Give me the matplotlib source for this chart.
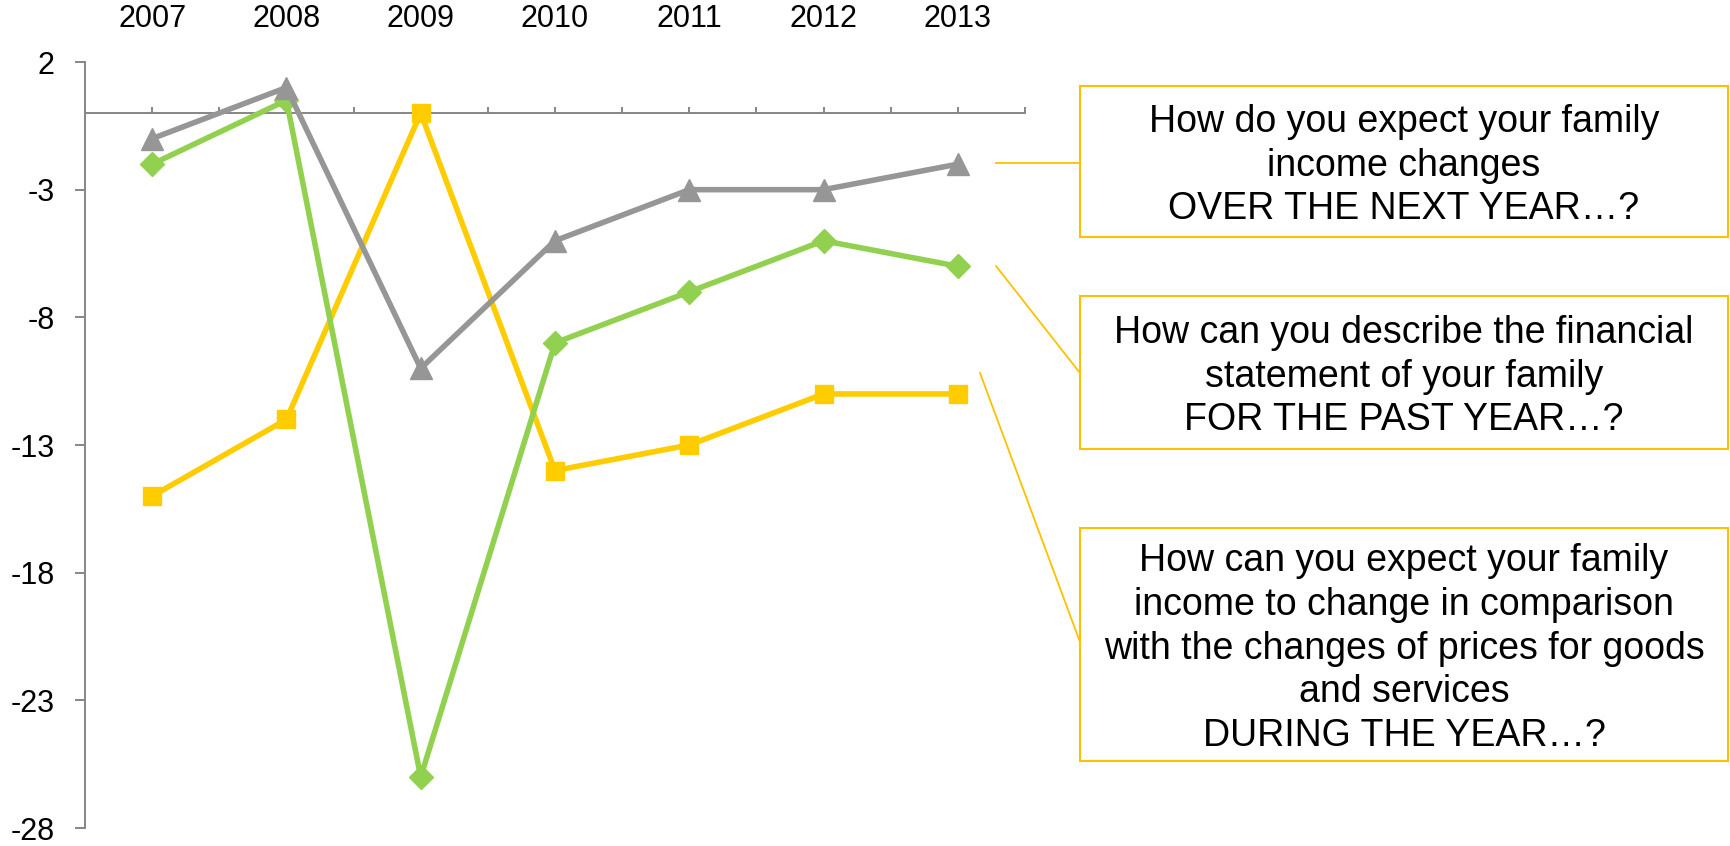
import matplotlib
matplotlib.use('Agg')
import matplotlib.pyplot as plt
from matplotlib.patches import Rectangle
from matplotlib.lines import Line2D
import numpy as np

plt.rcParams.update({
    'font.family': ['Liberation Sans', 'DejaVu Sans'],
    'axes.unicode_minus': False,
})

years = ['2007', '2008', '2009', '2010', '2011', '2012', '2013']
next_year_income = [-1, 1, -10, -5, -3, -3, -2]          # grey, triangles
past_year_finance = [-2, 0.5, -26, -9, -7, -5, -6]       # green, diamonds
income_vs_prices = [-15, -12, 0, -14, -13, -11, -11]     # yellow, squares
y_ticks = [2, -3, -8, -13, -18, -23, -28]

box_texts = [
    'How do you expect your family\nincome changes\nOVER THE NEXT YEAR…?',
    'How can you describe the financial\nstatement of your family\nFOR THE PAST YEAR…?',
    'How can you expect your family\nincome to change in comparison\nwith the changes of prices for goods\nand services\nDURING THE YEAR…?',
]

GREY = '#969696'
GREEN = '#92D050'
YELLOW = '#FFCC00'
GOLD = '#FFC000'
AXIS = '#868686'

W, H = 1731, 846
fig = plt.figure(figsize=(W / 100, H / 100), dpi=100)
ax = fig.add_axes([85 / W, 1 - 828 / H, 940 / W, (828 - 62) / H])

x = np.arange(len(years))
ax.plot(x, income_vs_prices, color=YELLOW, lw=4, marker='s', ms=13, zorder=3)
ax.plot(x, past_year_finance, color=GREEN, lw=4, marker='D', ms=12, zorder=4)
ax.plot(x, next_year_income, color=GREY, lw=4, marker='^', ms=16, zorder=5)

ax.set_xlim(-0.5, len(years) - 0.5)
ax.set_ylim(-28, 2)
ax.set_yticks(y_ticks)
ax.set_xticks(x)
ax.set_xticklabels(years)
ax.set_xticks(np.arange(-0.5, len(years)), minor=True)

ax.spines['top'].set_visible(False)
ax.spines['right'].set_visible(False)
ax.spines['bottom'].set_position(('data', 0))
for s in ('left', 'bottom'):
    ax.spines[s].set_color(AXIS)
    ax.spines[s].set_linewidth(1.4)

ax.tick_params(axis='x', which='both', direction='in', length=4.5, width=1.4,
               color=AXIS, bottom=True, top=False,
               labelbottom=False, labeltop=True, labelsize=22, pad=20)
ax.tick_params(axis='y', direction='out', length=7, width=1.4, color=AXIS,
               labelsize=22, pad=15)

# question boxes on the right (pixel layout)
boxes = [(1080, 86, 1728, 237), (1080, 296, 1728, 449), (1080, 528, 1728, 761)]
for (x0, y0, x1, y1), txt in zip(boxes, box_texts):
    fig.patches.append(Rectangle((x0 / W, 1 - y1 / H), (x1 - x0) / W, (y1 - y0) / H,
                                 transform=fig.transFigure, fill=False,
                                 edgecolor=GOLD, lw=1.5))
    fig.text((x0 + x1) / 2 / W, 1 - ((y0 + y1) / 2 + 4) / H, txt,
             ha='center', va='center', fontsize=27, linespacing=1.28)

connectors = [((996, 163), (1080, 163)), ((996, 266), (1080, 373)),
              ((980, 373), (1080, 642))]
for (xa, ya), (xb, yb) in connectors:
    fig.lines.append(Line2D([xa / W, xb / W], [1 - ya / H, 1 - yb / H],
                            transform=fig.transFigure, color=GOLD, lw=1.3))

fig.savefig('out.png', dpi=100)
